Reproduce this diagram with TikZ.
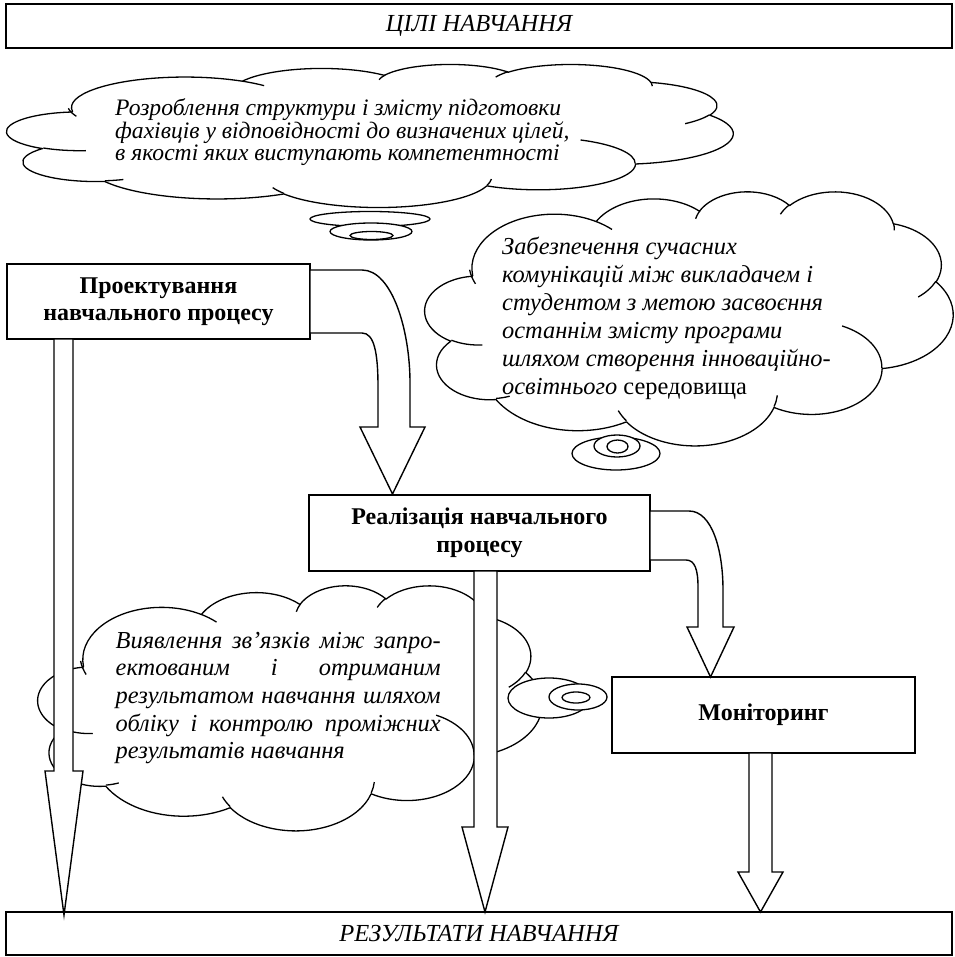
\documentclass[tikz,border=0pt]{standalone}
\usepackage{fontspec}
\setmainfont{Liberation Serif}
\usetikzlibrary{calc}
% arc in DrawingML style: wR, hR, start angle (visual), sweep
\newcommand\WA[4]{%
  \pgfextra{%
    \pgfmathsetmacro\waA{atan2((#1)*sin(#3),(#2)*cos(#3))}%
    \pgfmathsetmacro\waB{atan2((#1)*sin((#3)+(#4)),(#2)*cos((#3)+(#4)))}%
    \pgfmathsetmacro\waD{\waB-\waA}%
    \pgfmathsetmacro\waD{\waD+360*((#4)>0)*(\waD<0)-360*((#4)<0)*(\waD>0)}%
    \xdef\waS{\waA}\xdef\waT{\waD}%
  }%
  arc[x radius=#1, y radius=#2, start angle=\waS, delta angle=\waT]%
}
\newcommand\cloudpath{%
  (3.9,14.37) \WA{6.753}{9.19}{-190.48748}{123.78053}
  \WA{5.333}{7.267}{-144.10238}{89.94523}
  \WA{4.365}{5.945}{-145.80792}{99.72302}
  \WA{4.857}{6.595}{-130.98607}{117.24173}
  \WA{5.333}{7.273}{-78.70888}{109.02692}
  \WA{6.775}{9.22}{-46.26725}{130.269}
  \WA{5.785}{7.867}{0.62502}{114.03333}
  \WA{6.752}{9.215}{22.4516}{115.17255}
  \WA{7.72}{10.543}{66.24263}{75.71102}
  \WA{4.36}{5.918}{-274.94208}{146.73557}
  \WA{4.345}{5.945}{-246.8285}{152.51885}
  -- cycle}
\newcommand\cloudinner{%
  (4.693,26.177) \WA{4.345}{5.945}{86.742}{26.4295}
  (6.928,34.899) \WA{4.36}{5.918}{73.61047}{11.44747}
  (16.478,39.09) \WA{6.752}{9.215}{137.62415}{14.0811}
  (28.827,34.751) \WA{6.752}{9.215}{6.45327}{15.99835}
  (34.129,22.954) \WA{5.785}{7.867}{-70.29235}{70.91737}
  (41.798,15.354) \WA{5.333}{7.273}{30.31803}{27.7515}
  (38.324,5.426) \WA{4.857}{6.595}{-13.74433}{14.8589}
  (29.078,3.952) \WA{4.857}{6.595}{-149.18145}{18.19537}
  (22.141,4.72) \WA{4.365}{5.945}{-163.49427}{17.68635}
  (14,5.192) \WA{6.753}{9.19}{-66.70695}{12.31935}
  (4.127,15.789) \WA{6.753}{9.19}{150.0737}{19.90652}}
\tikzset{
  box/.style={draw, line width=1.5pt, fill=white, inner sep=0pt, align=center},
  boldtext/.style={font=\fontsize{24}{27.5}\selectfont\bfseries},
  captext/.style={font=\fontsize{24.5}{27}\selectfont\itshape},
  cloudline/.style={draw, fill=white, line width=1.3pt, line join=round},
  tailell/.style={draw, fill=white, line width=1.3pt},
  blockarrow/.style={draw, fill=white, line width=1.4pt, line join=miter},
  cloudtext/.style={inner sep=0pt, anchor=base west}
}
\begin{document}
\begin{tikzpicture}[x=1pt, y=-1pt]
\fill[white] (0,0) rectangle (954,957);
\useasboundingbox (0,0) rectangle (954,957);

% boxes
\node[box, captext, minimum width=946pt, minimum height=44pt] (goals) at (479,26) {ЦІЛІ НАВЧАННЯ};
\node[box, captext, minimum width=946pt, minimum height=43pt] (results) at (479,933.5) {\raisebox{-2pt}{РЕЗУЛЬТАТИ НАВЧАННЯ}};
\node[box, boldtext, minimum width=303pt, minimum height=75pt] (proj) at (158.5,301.5) {Проектування\\навчального процесу};
\node[box, boldtext, minimum width=341pt, minimum height=76pt] (real) at (479.5,533) {Реалізація навчального\\процесу};
\node[box, boldtext, minimum width=303pt, minimum height=76pt] (mon) at (763.5,715) {Моніторинг};

% cloud 1
\begin{scope}[shift={(7,64)}, x=16.8056pt, y=-3.3102pt]
  \path[cloudline] \cloudpath;
  \draw[line width=1.3pt] \cloudinner;
\end{scope}
\draw[tailell] (370,219) ellipse [x radius=60, y radius=7.5];
\draw[tailell] (371,231.5) ellipse [x radius=41, y radius=8.5];
\draw[tailell] (371.5,235.5) ellipse [x radius=21.5, y radius=4];

% cloud 2
\begin{scope}[shift={(425,191)}, x=12.2222pt, y=-5.8796pt]
  \path[cloudline] \cloudpath;
  \draw[line width=1.3pt] \cloudinner;
\end{scope}
\draw[tailell] (616,453.5) ellipse [x radius=44, y radius=16.5];
\draw[tailell] (617,446) ellipse [x radius=23, y radius=11];
\draw[tailell] (617.5,446.5) ellipse [x radius=10.5, y radius=6.5];

% cloud 3
\begin{scope}[shift={(38,585)}, x=11.6667pt, y=-5.6713pt]
  \path[cloudline] \cloudpath;
  \draw[line width=1.3pt] \cloudinner;
\end{scope}
\draw[tailell] (549,698) ellipse [x radius=41, y radius=20];
\draw[tailell] (578,697) ellipse [x radius=29, y radius=13];
\draw[tailell] (576,697.5) ellipse [x radius=14, y radius=5.5];

% cloud texts
\node[cloudtext, font=\fontsize{23.6}{22.5}\selectfont\itshape] (c1text) at (115,116)
  {\vtop{\hbox{Розроблення структури і змісту підготовки}
         \hbox{фахівців у відповідності до визначених цілей,}
         \hbox{в якості яких виступають компетентності}}};
\node[cloudtext, font=\fontsize{24.4}{27.8}\selectfont\itshape] (c2text) at (502,255)
  {\vtop{\hbox{Забезпечення сучасних}
         \hbox{комунікацій між викладачем і}
         \hbox{студентом з метою засвоєння}
         \hbox{останнім змісту програми}
         \hbox{шляхом створення інноваційно-}
         \hbox{освітнього \upshape середовища}}};
\node[cloudtext, font=\fontsize{24.4}{27.7}\selectfont\itshape] (c3text) at (115.5,648)
  {\vtop{\hbox to 325pt{Виявлення\hfill зв’язків\hfill між\hfill запро-}
         \hbox to 325pt{ектованим\hfill і\hfill отриманим}
         \hbox to 325pt{результатом\hfill навчання\hfill шляхом}
         \hbox to 325pt{обліку\hfill і\hfill контролю\hfill проміжних}
         \hbox{результатів навчання}}};

% block arrows
\path[blockarrow] (54,339) -- (54,771) -- (45,771) -- (64,915) -- (83,771) -- (73,771) -- (73,339) -- cycle;
\path[blockarrow] (474,571) -- (474,827) -- (462,827) -- (485,912) -- (508,827) -- (497,827) -- (497,571) -- cycle;
\path[blockarrow] (749,753) -- (749,872) -- (738,872) -- (760.5,912) -- (783,872) -- (772,872) -- (772,753) -- cycle;
\path[blockarrow] (310,270) -- (362,270) .. controls (392,270) and (410,330) .. (410,383) -- (410,427) -- (425,427) -- (392.5,494) -- (360,427) -- (378,427) -- (378,387) .. controls (378,352) and (374,333) .. (362,333) -- (310,333) -- cycle;
\path[blockarrow] (650,511) -- (689,511) .. controls (712,511) and (723,550) .. (723,590) -- (723,627) -- (734,627) -- (710.5,677) -- (687,627) -- (698,627) -- (698,587) .. controls (698,570) and (695,560) .. (686,560) -- (650,560) -- cycle;
\end{tikzpicture}
\end{document}
